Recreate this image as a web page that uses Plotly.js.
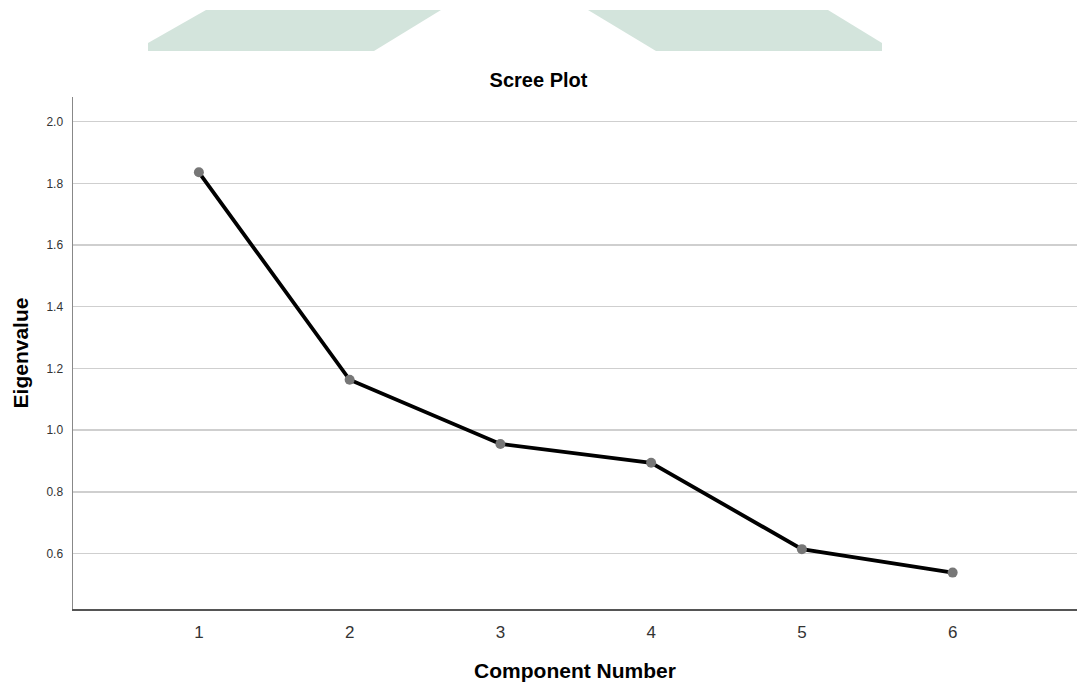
<!DOCTYPE html>
<html>
<head>
<meta charset="utf-8">
<script src="https://cdn.plot.ly/plotly-3.0.1.min.js"></script>
<style>html,body{margin:0;padding:0;background:#fff;}#chart{width:1077px;height:686px;}</style>
</head>
<body>
<div id="chart"></div>
<script>
const components = [1, 2, 3, 4, 5, 6];
const eigenvalues = [1.836, 1.163, 0.955, 0.894, 0.614, 0.538];
const yTicks = [0.6, 0.8, 1.0, 1.2, 1.4, 1.6, 1.8, 2.0];
const yTickLabels = ['0.6', '0.8', '1.0', '1.2', '1.4', '1.6', '1.8', '2.0'];
const xTickLabels = ['1', '2', '3', '4', '5', '6'];

const FONT = 'Liberation Sans, Arial, sans-serif';

const trace = {
  x: components,
  y: eigenvalues,
  type: 'scatter',
  mode: 'lines+markers',
  line: {color: '#000000', width: 3.8},
  marker: {color: '#777777', size: 10},
  hoverinfo: 'x+y',
  cliponaxis: false
};

const layout = {
  width: 1077,
  height: 686,
  paper_bgcolor: '#ffffff',
  plot_bgcolor: '#ffffff',
  margin: {l: 73, r: 0, t: 97, b: 77},
  showlegend: false,
  title: {
    text: '<b>Scree Plot</b>',
    font: {family: FONT, size: 20, color: '#000000'},
    x: 0.5, xref: 'container', xanchor: 'center',
    y: 0.883, yref: 'container', yanchor: 'middle'
  },
  xaxis: {
    range: [0.165, 6.825],
    tickvals: components,
    ticktext: xTickLabels,
    showgrid: false,
    zeroline: false,
    showline: true,
    linecolor: '#555555',
    linewidth: 1.5,
    ticks: '',
    ticklabelstandoff: 7,
    tickfont: {family: FONT, size: 17, color: '#333333'},
    title: {
      text: '<b>Component Number</b>',
      font: {family: FONT, size: 21, color: '#000000'},
      standoff: 22
    }
  },
  yaxis: {
    range: [0.42, 2.08],
    tickvals: yTicks,
    ticktext: yTickLabels,
    showgrid: true,
    gridcolor: '#cfcfcf',
    gridwidth: 1.5,
    zeroline: false,
    showline: true,
    linecolor: '#888888',
    linewidth: 1.5,
    ticks: '',
    ticklabelstandoff: 6,
    tickfont: {family: FONT, size: 12, color: '#333333'},
    title: {
      text: '<b>Eigenvalue</b>',
      font: {family: FONT, size: 21, color: '#000000'},
      standoff: 12
    }
  }
};

// Decorative banner shapes at top (pixel-based, converted to paper coords)
function px2paper(px, py) {
  const l = 73, r = 0, t = 97, b = 77;
  const w = 1077 - l - r, h = 686 - t - b;
  return [(px - l) / w, (686 - b - py) / h];
}
function poly(points) {
  return points.map((p, i) => {
    const q = px2paper(p[0], p[1]);
    return (i === 0 ? 'M ' : 'L ') + q[0].toFixed(5) + ' ' + q[1].toFixed(5);
  }).join(' ') + ' Z';
}
layout.shapes = [
  {
    type: 'path', xref: 'paper', yref: 'paper',
    path: poly([[148, 51], [148, 43], [206, 10], [441, 10], [374, 51]]),
    fillcolor: '#d3e4dc', line: {width: 0}
  },
  {
    type: 'path', xref: 'paper', yref: 'paper',
    path: poly([[656, 51], [588, 10], [828, 10], [882, 43], [882, 51]]),
    fillcolor: '#d3e4dc', line: {width: 0}
  }
];

Plotly.newPlot('chart', [trace], layout, {displayModeBar: false, staticPlot: true});
</script>
</body>
</html>
